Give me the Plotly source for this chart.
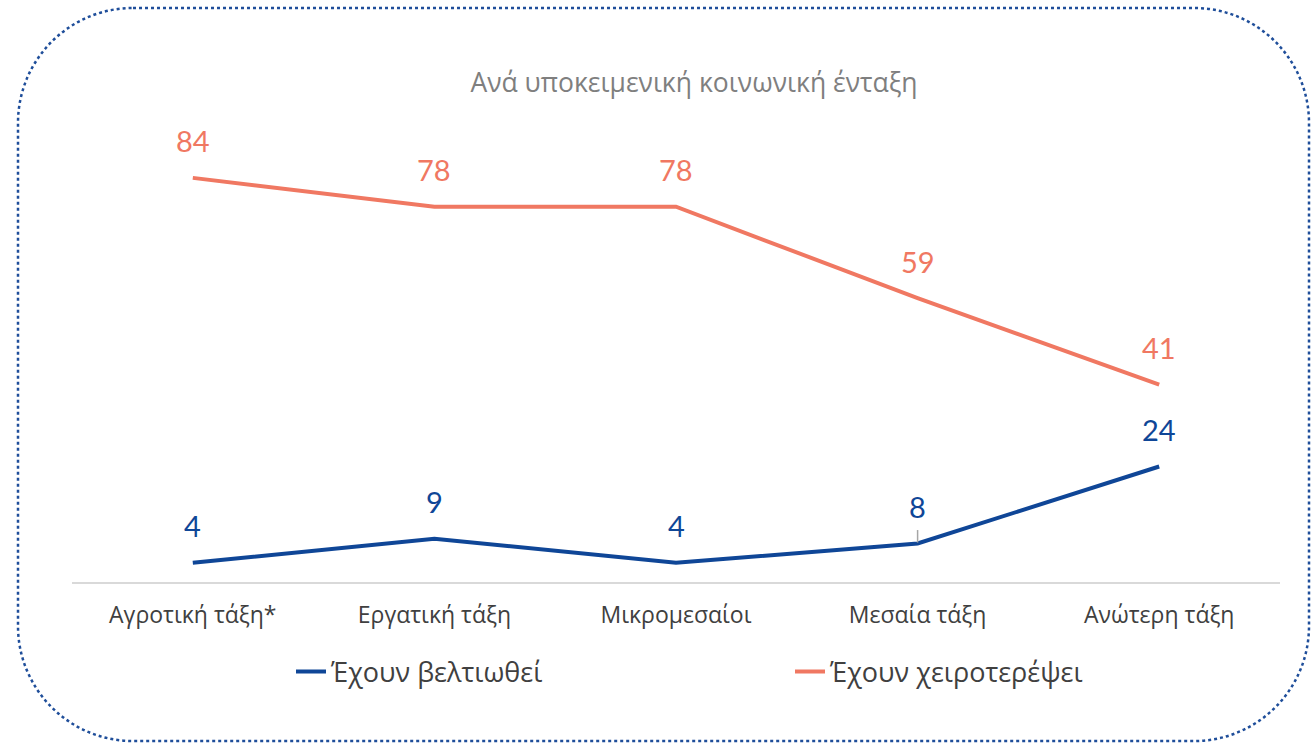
import plotly.graph_objects as go

categories = ["Αγροτική τάξη*", "Εργατική τάξη", "Μικρομεσαίοι", "Μεσαία τάξη", "Ανώτερη τάξη"]
improved = [4, 9, 4, 8, 24]
worsened = [84, 78, 78, 59, 41]
series_names = ["Έχουν βελτιωθεί", "Έχουν χειροτερέψει"]
title_text = "Ανά υποκειμενική κοινωνική ένταξη"

BLUE = "#0F4697"
ORANGE = "#F07862"
W, H = 1314, 744
ML, MR, MT, MB = 72, 34, 149, 162
PW, PH = W - ML - MR, H - MT - MB

fig = go.Figure()
fig.add_trace(go.Scatter(x=categories, y=improved, mode="lines", name=series_names[0],
                         line=dict(color=BLUE, width=4)))
fig.add_trace(go.Scatter(x=categories, y=worsened, mode="lines", name=series_names[1],
                         line=dict(color=ORANGE, width=4)))

annotations = []
for cat, v in zip(categories, improved):
    annotations.append(dict(x=cat, y=v, text=str(v), showarrow=False, yshift=37,
                            font=dict(family="Lato", size=29, color=BLUE)))
for cat, v in zip(categories, worsened):
    annotations.append(dict(x=cat, y=v, text=str(v), showarrow=False, yshift=37,
                            font=dict(family="Lato", size=29, color=ORANGE)))

# leader line for the "8" label
shapes = [dict(type="line", xref="x", yref="y", x0=categories[3], x1=categories[3],
               y0=improved[3] + 0.2, y1=improved[3] + 2.8,
               line=dict(color="#A6A6A6", width=1.5))]

# rounded dotted border (pixel -> paper conversion)
def px(x):
    return (x - ML) / PW

def py(y):
    return (H - MB - y) / PH

L, T, R, B, r = 18, 8, 1309, 741, 115
k = 0.5523 * r
pts = [
    ("M", [(L + r, T)]),
    ("L", [(R - r, T)]),
    ("C", [(R - r + k, T), (R, T + r - k), (R, T + r)]),
    ("L", [(R, B - r)]),
    ("C", [(R, B - r + k), (R - r + k, B), (R - r, B)]),
    ("L", [(L + r, B)]),
    ("C", [(L + r - k, B), (L, B - r + k), (L, B - r)]),
    ("L", [(L, T + r)]),
    ("C", [(L, T + r - k), (L + r - k, T), (L + r, T)]),
]
path = ""
for cmd, ps in pts:
    path += cmd + " " + " ".join(f"{px(x):.5f},{py(y):.5f}" for x, y in ps) + " "
path += "Z"
shapes.append(dict(type="path", xref="paper", yref="paper", path=path,
                   line=dict(color="#1F4E9A", width=2.5, dash="dot")))

fig.update_layout(
    width=W, height=H,
    margin=dict(l=ML, r=MR, t=MT, b=MB),
    paper_bgcolor="white", plot_bgcolor="white",
    title=dict(text=title_text, x=694 / W, xref="container", xanchor="center",
               y=1 - 83 / H, yref="container", yanchor="middle",
               font=dict(family="Open Sans", size=26.5, color="#7F7F7F")),
    xaxis=dict(range=[-0.5, 4.5], showline=True, linecolor="#D9D9D9", linewidth=1.5,
               showgrid=False, ticks="outside", ticklen=12, tickcolor="rgba(0,0,0,0)",
               tickfont=dict(family="Open Sans", size=23, color="#404040")),
    yaxis=dict(range=[0, 90], visible=False, showgrid=False, zeroline=False),
    legend=dict(orientation="h", x=px(291), xanchor="left", y=py(672),
                yanchor="middle", entrywidth=454, entrywidthmode="pixels",
                bgcolor="rgba(0,0,0,0)",
                font=dict(family="Open Sans", size=27, color="#404040")),
    annotations=annotations,
    shapes=shapes,
)

fig.write_html("out.html", config={"displayModeBar": False},
               post_script="document.body.style.margin='0';")
